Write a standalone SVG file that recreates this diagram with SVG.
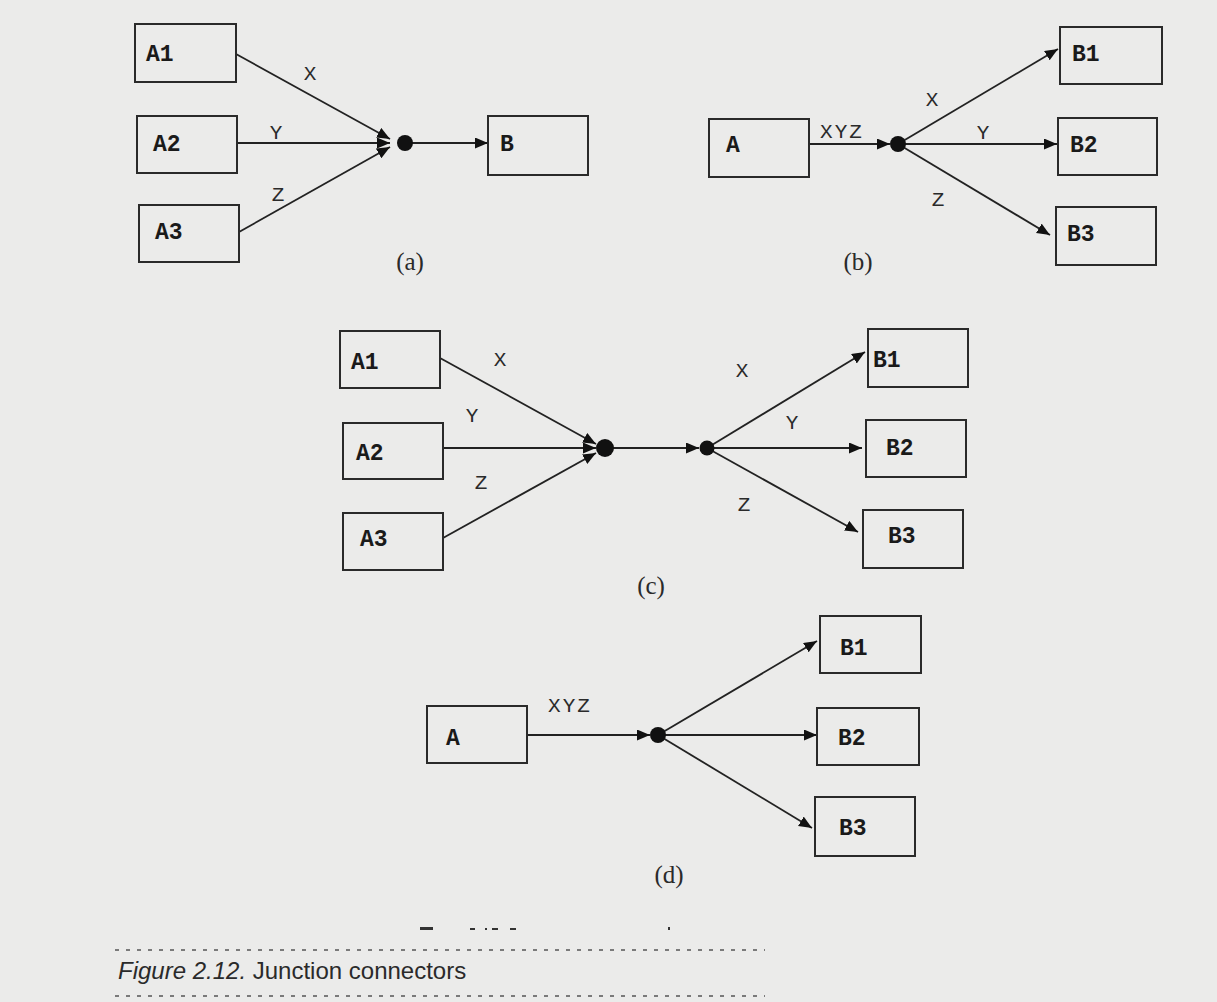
<svg xmlns="http://www.w3.org/2000/svg" width="1217" height="1002" viewBox="0 0 1217 1002">
<style>
.box{fill:none;stroke:#2a2a2a;stroke-width:2}
.nl{font-family:"Liberation Mono",monospace;font-weight:bold;font-size:23px;fill:#1a1a1a}
.el{font-family:"Liberation Mono",monospace;font-size:21px;fill:#2a2a2a;text-anchor:middle}
.cap{font-family:"Liberation Serif",serif;font-size:25px;fill:#2a2a2a;text-anchor:middle}
.ln{fill:none;stroke:#222;stroke-width:1.8}
.arr{marker-end:url(#ah)}
.dot{fill:#111}
.dl{stroke:#555;stroke-width:1.5;stroke-dasharray:4 7}
.ft{font-family:"Liberation Sans",sans-serif;font-size:24px;fill:#2a2a2a}
</style>
<defs>
<marker id="ah" markerUnits="userSpaceOnUse" markerWidth="14" markerHeight="12" refX="13" refY="5.5" orient="auto">
<path d="M0,0 L13,5.5 L0,11 z" fill="#111"/>
</marker>
</defs>
<rect width="1217" height="1002" fill="#ebebea"/>

<g id="connectors">
<path class="ln arr" d="M236,54 L390,139"/>
<path class="ln arr" d="M237,143 L390,143"/>
<path class="ln arr" d="M239,232 L390,147"/>
<path class="ln arr" d="M405,143 L488,143"/>
<circle class="dot" cx="405" cy="143" r="8"/>

<path class="ln arr" d="M809,144 L890,144"/>
<path class="ln arr" d="M898,144 L1058,49"/>
<path class="ln arr" d="M898,144 L1057,144"/>
<path class="ln arr" d="M898,144 L1050,235"/>
<circle class="dot" cx="898" cy="144" r="8"/>

<path class="ln arr" d="M440,358 L596,444"/>
<path class="ln arr" d="M443,448 L596,448"/>
<path class="ln arr" d="M443,538 L596,453"/>
<path class="ln arr" d="M605,448 L699,448"/>
<path class="ln arr" d="M707,448 L865,352"/>
<path class="ln arr" d="M707,448 L862,448"/>
<path class="ln arr" d="M707,448 L858,532"/>
<circle class="dot" cx="605" cy="448" r="9"/>
<circle class="dot" cx="707" cy="448" r="7.5"/>

<path class="ln arr" d="M527,735 L650,735"/>
<path class="ln arr" d="M658,735 L817,641"/>
<path class="ln arr" d="M658,735 L817,735"/>
<path class="ln arr" d="M658,735 L812,828"/>
<circle class="dot" cx="658" cy="735" r="8"/>

<text class="el" x="310" y="80">X</text>
<text class="el" x="276" y="139">Y</text>
<text class="el" x="278" y="201">Z</text>
<text class="el" x="842" y="138" letter-spacing="2">XYZ</text>
<text class="el" x="932" y="106">X</text>
<text class="el" x="983" y="139">Y</text>
<text class="el" x="938" y="206">Z</text>
<text class="el" x="500" y="366">X</text>
<text class="el" x="472" y="422">Y</text>
<text class="el" x="481" y="489">Z</text>
<text class="el" x="742" y="377">X</text>
<text class="el" x="792" y="429">Y</text>
<text class="el" x="744" y="511">Z</text>
<text class="el" x="570" y="712" letter-spacing="2">XYZ</text>
</g>

<g id="a-A1"><rect class="box" x="135" y="24" width="101" height="58"/><text class="nl" x="146" y="61">A1</text></g>
<g id="a-A2"><rect class="box" x="137" y="116" width="100" height="57"/><text class="nl" x="153" y="151">A2</text></g>
<g id="a-A3"><rect class="box" x="139" y="205" width="100" height="57"/><text class="nl" x="155" y="239">A3</text></g>
<g id="a-B"><rect class="box" x="488" y="116" width="100" height="59"/><text class="nl" x="500" y="151">B</text></g>
<text class="cap" x="410" y="270">(a)</text>

<g id="b-A"><rect class="box" x="709" y="119" width="100" height="58"/><text class="nl" x="726" y="152">A</text></g>
<g id="b-B1"><rect class="box" x="1060" y="27" width="102" height="57"/><text class="nl" x="1072" y="61">B1</text></g>
<g id="b-B2"><rect class="box" x="1058" y="118" width="99" height="57"/><text class="nl" x="1070" y="152">B2</text></g>
<g id="b-B3"><rect class="box" x="1056" y="207" width="100" height="58"/><text class="nl" x="1067" y="241">B3</text></g>
<text class="cap" x="858" y="270">(b)</text>

<g id="c-A1"><rect class="box" x="340" y="331" width="100" height="57"/><text class="nl" x="351" y="369">A1</text></g>
<g id="c-A2"><rect class="box" x="343" y="423" width="100" height="56"/><text class="nl" x="356" y="460">A2</text></g>
<g id="c-A3"><rect class="box" x="343" y="513" width="100" height="57"/><text class="nl" x="360" y="546">A3</text></g>
<g id="c-B1"><rect class="box" x="868" y="329" width="100" height="58"/><text class="nl" x="873" y="367">B1</text></g>
<g id="c-B2"><rect class="box" x="866" y="420" width="100" height="57"/><text class="nl" x="886" y="455">B2</text></g>
<g id="c-B3"><rect class="box" x="863" y="510" width="100" height="58"/><text class="nl" x="888" y="543">B3</text></g>
<text class="cap" x="651" y="594">(c)</text>

<g id="d-A"><rect class="box" x="427" y="706" width="100" height="57"/><text class="nl" x="446" y="745">A</text></g>
<g id="d-B1"><rect class="box" x="820" y="616" width="101" height="57"/><text class="nl" x="840" y="655">B1</text></g>
<g id="d-B2"><rect class="box" x="817" y="708" width="102" height="57"/><text class="nl" x="838" y="745">B2</text></g>
<g id="d-B3"><rect class="box" x="815" y="797" width="100" height="59"/><text class="nl" x="839" y="835">B3</text></g>
<text class="cap" x="669" y="883">(d)</text>

<g id="caption">
<g fill="#333">
<rect x="420" y="927" width="13" height="3"/>
<rect x="470" y="928" width="5" height="2"/>
<rect x="485" y="928" width="2" height="2"/>
<rect x="492" y="928" width="6" height="2"/>
<rect x="510" y="928" width="6" height="2"/>
<rect x="668" y="927" width="2" height="3"/>
</g>
<line class="dl" x1="115" y1="950" x2="765" y2="950"/>
<text class="ft" x="118" y="979"><tspan font-style="italic">Figure 2.12.</tspan>  Junction connectors</text>
<line class="dl" x1="115" y1="996" x2="765" y2="996"/>
</g>
</svg>
